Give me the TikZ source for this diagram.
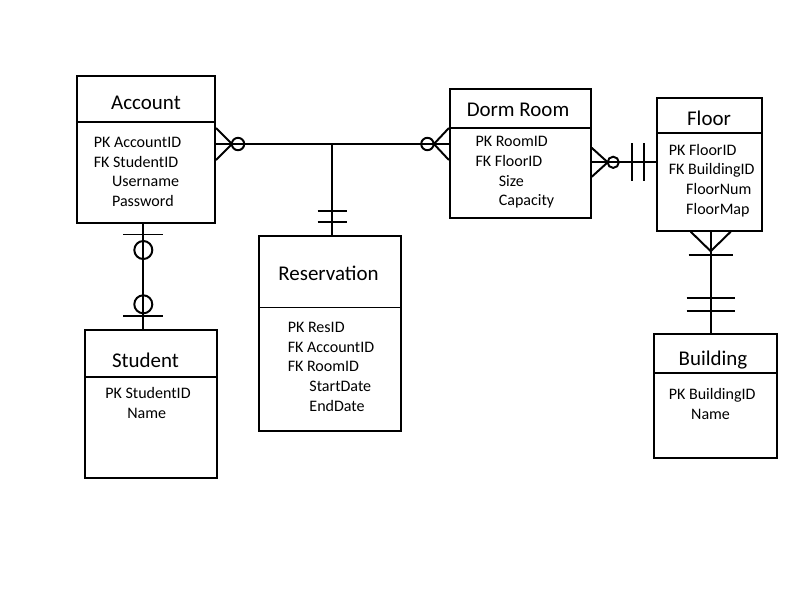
\documentclass[tikz,border=0pt]{standalone}
\usepackage{fontspec}
\setmainfont{Carlito}

\begin{document}
\begin{tikzpicture}[x=0.025cm,y=-0.025cm]
\tikzset{outerframe/.style={draw=none}}

\tikzset{entity/.style={
rectangle,draw,black,line width=1.4pt,
inner sep=0pt}}

\tikzset{divider/.style={black,line width=1.2pt}}

\tikzset{title/.style={
anchor=base,inner sep=0pt,
font=\fontsize{14.9}{17}\selectfont}}

% base of a multi-line node = baseline of its last line
\tikzset{attr/.style={
anchor=base west,inner sep=0pt,align=left,
font=\fontsize{11.4}{14}\selectfont}}

\tikzset{link/.style={black,line width=1.4pt}}

\path[outerframe,use as bounding box]
(0,0) rectangle (800,600);

% Account
\draw
(146,149.5)
node[entity,minimum width=3.45cm,minimum height=3.675cm,name=uAccount] {};
\draw[divider] (uAccount.west |- 0,122) -- (uAccount.east |- 0,122);
\draw
(146,109) node[title,name=uAccountTitle] {Account}
(93.5,206.4) node[attr,name=uAccountKeys]
{PK AccountID\\FK StudentID\\\hspace*{13pt}Username\\\hspace*{13pt}Password};

% Dorm Room
\draw
(520.3,153.6)
node[entity,minimum width=3.52cm,minimum height=3.23cm,name=uDormRoom] {};
\draw[divider] (uDormRoom.west |- 0,128) -- (uDormRoom.east |- 0,128);
\draw
(518,116.7) node[title,name=uDormRoomTitle] {Dorm Room}
(475.3,205.8) node[attr,name=uDormRoomKeys]
{PK RoomID\\FK FloorID\\\hspace*{16.5pt}Size\\\hspace*{16.5pt}Capacity};

% Floor
\draw
(709.5,164.5)
node[entity,minimum width=2.61cm,minimum height=3.31cm,name=uFloor] {};
\draw[divider] (uFloor.west |- 0,133) -- (uFloor.east |- 0,133);
\draw
(709,125) node[title,name=uFloorTitle] {Floor}
(668.5,214.1) node[attr,name=uFloorKeys]
{PK FloorID\\FK BuildingID\\\hspace*{12.4pt}FloorNum\\\hspace*{12.4pt}FloorMap};

% Reservation
\draw
(330,333.5)
node[entity,minimum width=3.54cm,minimum height=4.875cm,name=uReservation] {};
\draw[divider] (uReservation.west |- 0,307.5) -- (uReservation.east |- 0,307.5);
\draw
(328.5,280.7) node[title,name=uReservationTitle] {Reservation}
(287.5,411.1) node[attr,name=uReservationKeys]
{PK ResID\\FK AccountID\\FK RoomID\\\hspace*{15.4pt}StartDate\\\hspace*{15.4pt}EndDate};

% Student
\draw
(151,403.8)
node[entity,minimum width=3.3cm,minimum height=3.7cm,name=uStudent] {};
\draw[divider] (uStudent.west |- 0,377) -- (uStudent.east |- 0,377);
\draw
(145.5,367.7) node[title,name=uStudentTitle] {Student}
(105,418) node[attr,name=uStudentKeys]
{PK StudentID\\\hspace*{15.7pt}Name};

% Building
\draw
(715.4,395.7)
node[entity,minimum width=3.07cm,minimum height=3.09cm,name=uBuilding] {};
\draw[divider] (uBuilding.west |- 0,373) -- (uBuilding.east |- 0,373);
\draw
(713,365) node[title,name=uBuildingTitle] {Building}
(668.5,419) node[attr,name=uBuildingKeys]
{PK BuildingID\\\hspace*{15.9pt}Name};

% Account -- Dorm Room, with Reservation
\coordinate (cJoin) at (332,144);
\draw[link] (uAccount.east |- cJoin) -- (uDormRoom.west |- cJoin);
\draw[link] (cJoin) -- (cJoin |- uReservation.north);
\draw[link] (uAccount.east |- cJoin) ++(0,-16) -- ++(16,16) -- ++(-16,16);
\draw[link] (uAccount.east |- cJoin) ++(22,0) circle[radius=1.55mm];
\draw[link] (uDormRoom.west |- cJoin) ++(0,-16) -- ++(-15,16) -- ++(15,16);
\draw[link] (uDormRoom.west |- cJoin) ++(-21.5,0) circle[radius=1.55mm];
\draw[link] (cJoin |- uReservation.north) ++(-14.5,-24) -- ++(29,0);
\draw[link] (cJoin |- uReservation.north) ++(-14.5,-13) -- ++(29,0);

% Account -- Student
\coordinate (cStu) at (143.3,0);
\draw[link] (uAccount.south -| cStu) -- (uStudent.north -| cStu);
\draw[link] (uAccount.south -| cStu) ++(-20,10.5) -- ++(40,0);
\draw[link] (uAccount.south -| cStu) ++(0,26) circle[radius=2.25mm];
\draw[link] (uStudent.north -| cStu) ++(-20,-12.5) -- ++(40,0);
\draw[link] (uStudent.north -| cStu) ++(0,-24.5) circle[radius=2.25mm];

% Dorm Room -- Floor
\coordinate (cFlr) at (0,162.3);
\draw[link] (uDormRoom.east |- cFlr) -- (uFloor.west |- cFlr);
\draw[link] (uDormRoom.east |- cFlr) ++(0,-14.5) -- ++(16,14.5) -- ++(-16,14.5);
\draw[link] (uDormRoom.east |- cFlr) ++(21.5,0) circle[radius=1.4mm];
\draw[link] (uFloor.west |- cFlr) ++(-24,-19) -- ++(0,38);
\draw[link] (uFloor.west |- cFlr) ++(-12.3,-19) -- ++(0,38);

% Floor -- Building
\coordinate (cBld) at (710.7,0);
\draw[link] (uFloor.south -| cBld) -- (uBuilding.north -| cBld);
\draw[link] (uFloor.south -| cBld) ++(-20,0) -- ++(20,19.5) -- ++(20,-19.5);
\draw[link] (uFloor.south -| cBld) ++(-22,23.5) -- ++(44,0);
\draw[link] (uBuilding.north -| cBld) ++(-24,-35) -- ++(48,0);
\draw[link] (uBuilding.north -| cBld) ++(-24,-21.7) -- ++(48,0);

\end{tikzpicture}
\end{document}
